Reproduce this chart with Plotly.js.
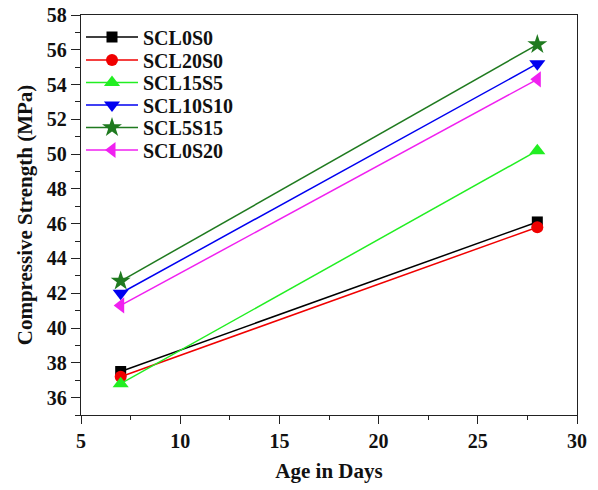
<!DOCTYPE html>
<html>
<head>
<meta charset="utf-8">
<script src="https://cdn.plot.ly/plotly-3.0.1.min.js"></script>
<style>html,body{margin:0;padding:0;background:#fff;}#chart{width:598px;height:490px;}</style>
</head>
<body>
<div id="chart"></div>
<script>
var ages = [7, 28];
var seriesNames = ['SCL0S0', 'SCL20S0', 'SCL15S5', 'SCL10S10', 'SCL5S15', 'SCL0S20'];
var SCL0S0 = [37.5, 46.1];
var SCL20S0 = [37.2, 45.8];
var SCL15S5 = [36.8, 50.2];
var SCL10S10 = [42.0, 55.2];
var SCL5S15 = [42.7, 56.3];
var SCL0S20 = [41.3, 54.3];
var seriesValues = [SCL0S0, SCL20S0, SCL15S5, SCL10S10, SCL5S15, SCL0S20];
var xTicks = [5, 10, 15, 20, 25, 30];
var yTicks = [36, 38, 40, 42, 44, 46, 48, 50, 52, 54, 56, 58];
var colors = ['#000000', '#f00000', '#22ee22', '#0000f0', '#1f7a1f', '#f020f0'];
var symbols = ['square', 'circle', 'triangle-up', 'triangle-down', 'star', 'triangle-left'];
var sizes = [11, 12, 14, 14, 15, 14];

var FAM = 'Liberation Serif, Times New Roman, serif';
var legendNames = ['legend', 'legend2', 'legend3', 'legend4', 'legend5', 'legend6'];

var traces = seriesNames.map(function (n, i) {
  return {
    x: ages, y: seriesValues[i], name: '<b>' + n + '</b>', type: 'scatter', mode: 'lines+markers',
    legend: legendNames[i],
    line: {color: colors[i], width: 1.5},
    marker: {symbol: symbols[i], color: colors[i], size: sizes[i], line: {width: 0}}
  };
});

function boldLabels(v) { return v.map(function (t) { return '<b>' + t + '</b>'; }); }

var layout = {
  width: 598, height: 490,
  margin: {l: 81, r: 21, t: 15, b: 75},
  paper_bgcolor: '#fff', plot_bgcolor: '#fff',
  font: {family: FAM, size: 19, color: '#111'},
  showlegend: true,
  xaxis: {
    range: [5, 30], tickvals: xTicks, ticktext: boldLabels(xTicks), showgrid: false, zeroline: false,
    showline: true, linecolor: '#222', linewidth: 1.2, mirror: true,
    ticks: 'outside', ticklen: 8, tickwidth: 1, tickcolor: '#222',
    minor: {dtick: 2.5, ticks: 'outside', ticklen: 4, tickcolor: '#222', showgrid: false},
    tickfont: {family: FAM, size: 20, color: '#111'},
    title: {text: '<b>Age in Days</b>', font: {family: FAM, size: 21, color: '#111'}, standoff: 12}
  },
  yaxis: {
    range: [35, 58], tickvals: yTicks, ticktext: boldLabels(yTicks), showgrid: false, zeroline: false,
    showline: true, linecolor: '#222', linewidth: 1.2, mirror: true,
    ticks: 'outside', ticklen: 9, tickwidth: 1, tickcolor: '#222',
    minor: {dtick: 1, ticks: 'outside', ticklen: 5, tickcolor: '#222', showgrid: false},
    tickfont: {family: FAM, size: 20, color: '#111'},
    title: {text: '<b>Compressive Strength (MPa)</b>', font: {family: FAM, size: 21, color: '#111'}, standoff: 8}
  }
};

// one legend per series so the entries can sit as tightly as in the original
var entryCentersPx = [37, 60, 82.5, 105, 127.5, 150];
legendNames.forEach(function (ln, i) {
  layout[ln] = {
    x: 0, y: 1 - (entryCentersPx[i] - 15) / 400, xanchor: 'left', yanchor: 'middle',
    bgcolor: 'rgba(0,0,0,0)', borderwidth: 0, itemwidth: 52,
    font: {family: FAM, size: 20, color: '#111'}
  };
});

Plotly.newPlot('chart', traces, layout, {displayModeBar: false, staticPlot: true});
</script>
</body>
</html>
